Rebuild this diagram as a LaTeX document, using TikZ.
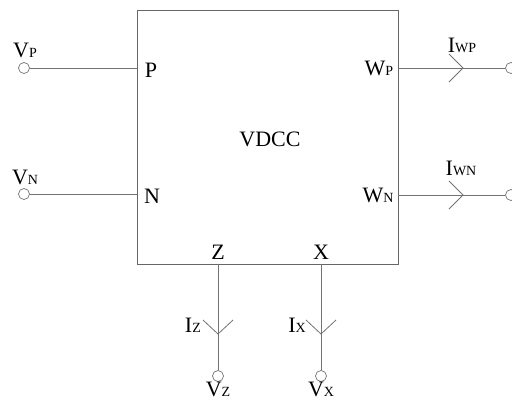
\documentclass[tikz,border=0pt]{standalone}
\usepackage{fontspec}
\setmainfont{Liberation Serif}
\newcommand\subl[1]{{\fontsize{14}{14}\selectfont #1}}
\begin{document}
\begin{tikzpicture}[x=1pt,y=-1pt,
 wire/.style={draw=black!55, line width=0.8pt},
 term/.style={circle, draw=black!55, line width=0.7pt, fill=white, minimum size=11pt, inner sep=0pt},
 lbl/.style={font=\fontsize{22}{22}\selectfont, inner sep=0pt}]
\useasboundingbox (0,0) rectangle (512,400);
\node[draw=black!60, line width=0.8pt, minimum width=261pt, minimum height=254pt, inner sep=0pt, anchor=north west] (box) at (137,10) {};
\coordinate (pP) at (137,68);
\coordinate (pN) at (137,194);
\coordinate (pWP) at (398,68);
\coordinate (pWN) at (398,195);
\coordinate (pZ) at (218,264);
\coordinate (pX) at (321,264);
\node[term] (tVP) at (24,68) {};
\node[term] (tVN) at (24,194) {};
\node[term] (tWP) at (511,68) {};
\node[term] (tWN) at (511,195) {};
\node[term] (tVZ) at (218,376) {};
\node[term] (tVX) at (321,376) {};
\draw[wire] (pP) -- (tVP);
\draw[wire] (pN) -- (tVN);
\draw[wire] (pWP) -- (tWP);
\draw[wire] (pWN) -- (tWN);
\draw[wire] (pZ) -- (tVZ);
\draw[wire] (pX) -- (tVX);
% current chevrons
\draw[wire] (449,54) -- (463,68) -- (449,82);
\draw[wire] (449,181) -- (463,195) -- (449,209);
\draw[wire] (203,320) -- (218,334) -- (233,320);
\draw[wire] (306,320) -- (321,334) -- (336,320);
% labels
\node[lbl] (lVP) at (25,50) {V\subl{P}};
\node[lbl] (lP) at (151,70) {P};
\node[lbl] (lWP) at (379,68) {W\subl{P}};
\node[lbl] (lIWP) at (462,45) {I\subl{WP}};
\node[lbl] (lVDCC) at (270,139) {VDCC};
\node[lbl] (lVN) at (25,177) {V\subl{N}};
\node[lbl] (lN) at (152,196) {N};
\node[lbl] (lWN) at (378,195) {W\subl{N}};
\node[lbl] (lIWN) at (461,168) {I\subl{WN}};
\node[lbl] (lZ) at (218,252) {Z};
\node[lbl] (lX) at (321,252) {X};
\node[lbl, anchor=east] (lIZ) at (201,325) {I\subl{Z}};
\node[lbl, anchor=east] (lIX) at (306,325) {I\subl{X}};
\node[lbl] (lVZ) at (218,389) {V\subl{Z}};
\node[lbl] (lVX) at (321,389) {V\subl{X}};
\end{tikzpicture}
\end{document}
